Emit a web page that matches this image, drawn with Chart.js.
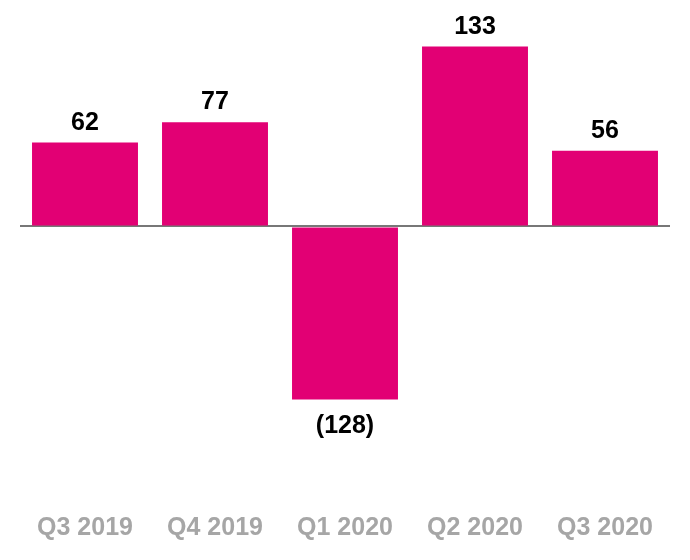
<!DOCTYPE html>
<html>
<head>
<meta charset="utf-8">
<script src="https://cdn.jsdelivr.net/npm/chart.js@4/dist/chart.umd.min.js"></script>
<style>
    html, body { margin: 0; padding: 0; background: #ffffff; }
    #wrap { width: 690px; height: 560px; }
</style>
</head>
<body>
<div id="wrap"><canvas id="quarterChart"></canvas></div>
<script>
var quarters = ["Q3 2019", "Q4 2019", "Q1 2020", "Q2 2020", "Q3 2020"];
var values = [62, 77, -128, 133, 56];

var barColor = "#E20074";
var axisGray = "#A6A6A6";

function fmt(v) {
    return v < 0 ? "(" + Math.abs(v) + ")" : String(v);
}

// value labels above / below each bar
var valueLabels = {
    id: "valueLabels",
    afterDatasetsDraw: function (chart) {
        var ctx = chart.ctx;
        var meta = chart.getDatasetMeta(0);
        ctx.save();
        ctx.font = "bold 25px 'Liberation Sans', Arial, sans-serif";
        ctx.fillStyle = "#000000";
        ctx.textAlign = "center";
        meta.data.forEach(function (bar, i) {
            var v = values[i];
            if (v >= 0) {
                ctx.textBaseline = "alphabetic";
                ctx.fillText(fmt(v), bar.x, bar.y - 13);
            } else {
                ctx.textBaseline = "top";
                ctx.fillText(fmt(v), bar.x, bar.y + 14);
            }
        });
        ctx.restore();
    }
};

new Chart(document.getElementById("quarterChart"), {
    type: "bar",
    data: {
        labels: quarters,
        datasets: [{
            data: values,
            backgroundColor: barColor,
            borderWidth: 0,
            barPercentage: 0.815,
            categoryPercentage: 1.0
        }]
    },
    options: {
        responsive: true,
        maintainAspectRatio: false,
        animation: false,
        layout: { padding: { left: 20, right: 20, top: 10, bottom: 0 } },
        plugins: {
            legend: { display: false },
            tooltip: { enabled: false },
            title: { display: false }
        },
        scales: {
            x: {
                grid: { display: false, drawTicks: false },
                border: { display: false },
                ticks: {
                    color: axisGray,
                    padding: 19,
                    font: { family: "'Liberation Sans', Arial, sans-serif", size: 25, weight: "bold", lineHeight: 1.0 }
                }
            },
            y: {
                min: -200,
                max: 160,
                afterBuildTicks: function (axis) {
                    axis.ticks = [{ value: 0 }];
                },
                grid: {
                    drawTicks: false,
                    color: function (c) { return c.tick && c.tick.value === 0 ? "#777777" : "rgba(0,0,0,0)"; },
                    lineWidth: 2
                },
                border: { display: false },
                ticks: { display: false }
            }
        }
    },
    plugins: [valueLabels]
});
</script>
</body>
</html>
